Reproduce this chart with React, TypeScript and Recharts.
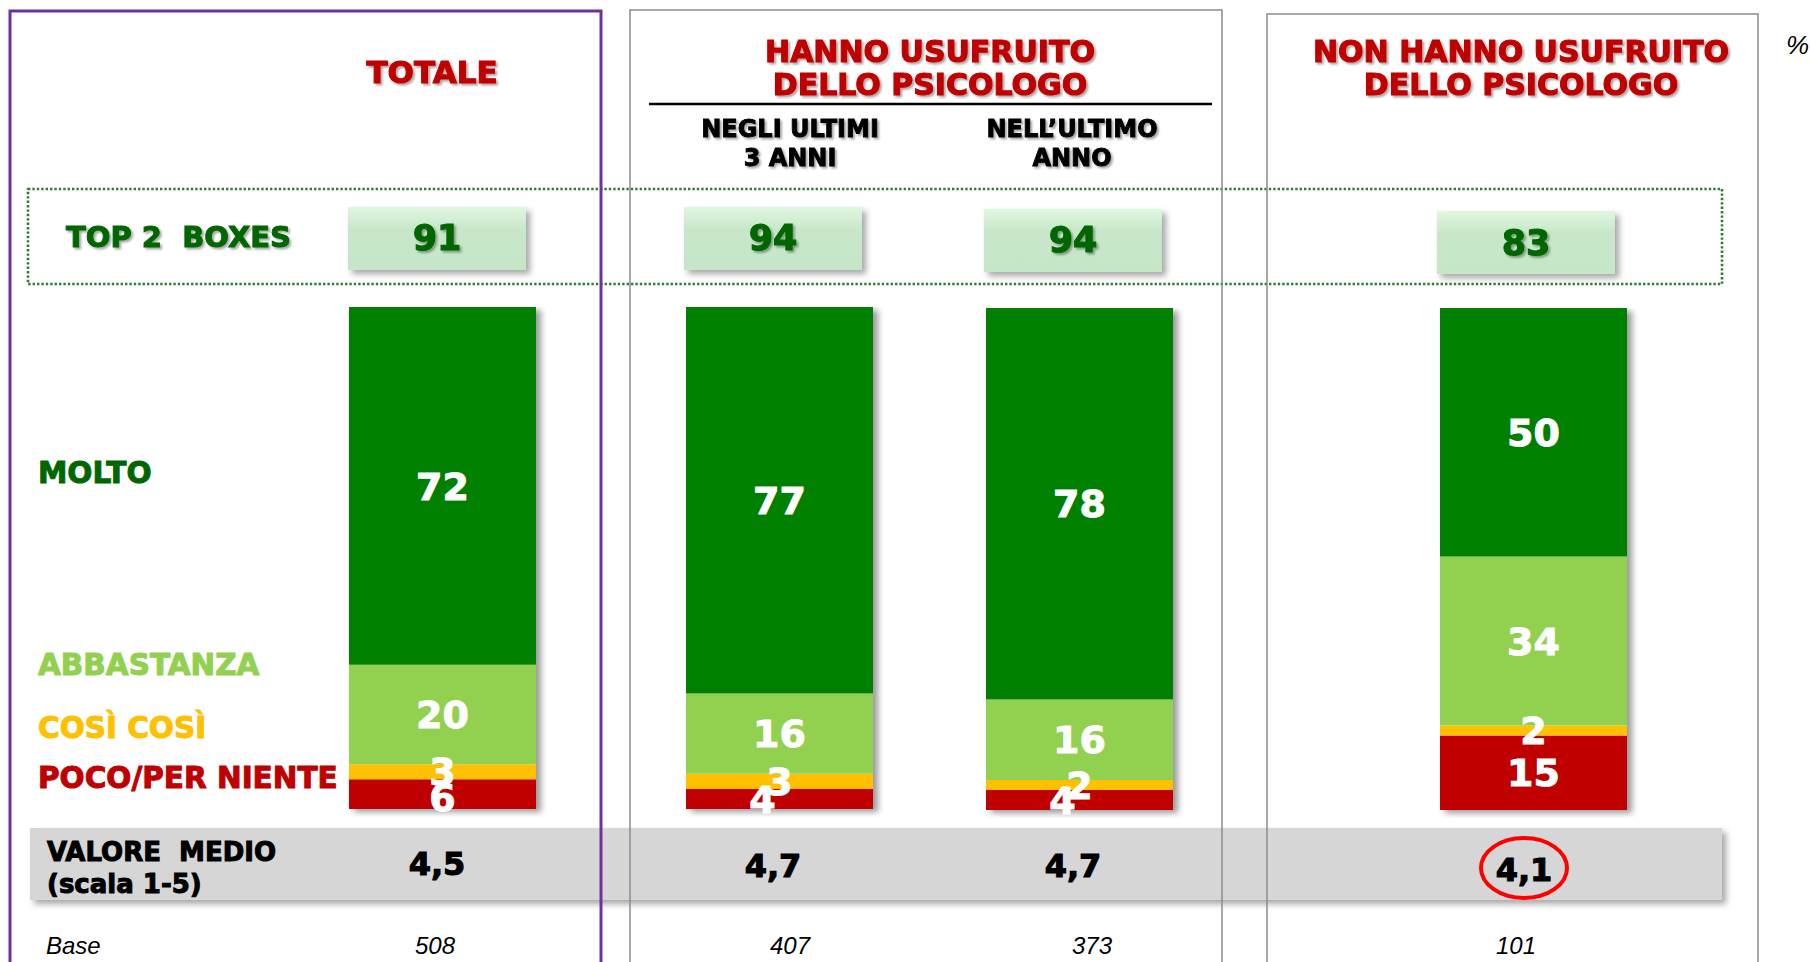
import React from 'react';
import { BarChart, Bar, XAxis, YAxis, LabelList } from 'recharts';

// ---- DATA ----
const categories = ['TOTALE', 'NEGLI ULTIMI 3 ANNI', "NELL'ULTIMO ANNO", 'NON HANNO USUFRUITO'];
const molto = [72, 77, 78, 50];
const abbastanza = [20, 16, 16, 34];
const cosi = [3, 3, 2, 2];
const poco = [6, 4, 4, 15];
const top2 = [91, 94, 94, 83];
const media = ['4,5', '4,7', '4,7', '4,1'];
const base = [508, 407, 373, 101];

// ---- LAYOUT ----
const BOLD = '"DejaVu Sans", sans-serif';
const REG = '"Liberation Sans", Arial, sans-serif';
const barCenters = [442, 779, 1079, 1533];
const barTops = [307, 307, 308, 308];
const BAR_H = 502;
const BAR_W = 187;
const CHART_W = 224;
const boxCenters = [437, 773, 1073, 1526];
const boxTops = [207, 207, 209, 211];
const top2Baselines = [250, 250, 252, 255];
const mediaCenters = [437, 773, 1073, 1524];
const mediaBaselines = [875, 877, 877, 881];
const baseCenters = [435, 790, 1092, 1516];
const pocoDx = [0, -17, -17, 0];
const pocoDy = [3, 0, 0, 0];

const SEG_COLORS = { molto: '#008000', abbastanza: '#92D050', cosi: '#FFC000', poco: '#C00000' };

const heavy = (color: string, w = 0.9) => ({ stroke: color, strokeWidth: w, paintOrder: 'stroke' as any });

const makeLabel = (dx: number, dy: number) => (props: any) => {
  const { x, y, width, height, value } = props;
  const F = 38;
  const cx = Number(x) + Number(width) / 2 + dx;
  const by = Number(y) + Number(height) / 2 + F * 0.36 + dy;
  return (
    <text x={cx} y={by} textAnchor="middle" fill="#fff" fontFamily={BOLD} fontWeight="bold" fontSize={F} {...heavy('#fff', 1)}>
      {value}
    </text>
  );
};

function Column({ i }: { i: number }) {
  const data = [
    { name: categories[i], poco: poco[i], cosi: cosi[i], abbastanza: abbastanza[i], molto: molto[i] },
  ];
  return (
    <div style={{ position: 'absolute', left: barCenters[i] - CHART_W / 2, top: barTops[i] }}>
      <BarChart
        width={CHART_W}
        height={BAR_H + 8}
        data={data}
        stackOffset="expand"
        margin={{ top: 0, right: 0, bottom: 8, left: 0 }}
        barSize={BAR_W}
        barCategoryGap={0}
      >
        <XAxis dataKey="name" hide />
        <YAxis type="number" hide />
        <Bar
          dataKey="poco"
          stackId="s"
          fill={SEG_COLORS.poco}
          isAnimationActive={false}
          background={{ fill: '#ffffff', filter: 'url(#barShadow)' } as any}
        >
          <LabelList dataKey="poco" content={makeLabel(pocoDx[i], pocoDy[i])} />
        </Bar>
        <Bar dataKey="cosi" stackId="s" fill={SEG_COLORS.cosi} isAnimationActive={false}>
          <LabelList dataKey="cosi" content={makeLabel(0, 0)} />
        </Bar>
        <Bar dataKey="abbastanza" stackId="s" fill={SEG_COLORS.abbastanza} isAnimationActive={false}>
          <LabelList dataKey="abbastanza" content={makeLabel(0, 0)} />
        </Bar>
        <Bar dataKey="molto" stackId="s" fill={SEG_COLORS.molto} isAnimationActive={false}>
          <LabelList dataKey="molto" content={makeLabel(0, 0)} />
        </Bar>
      </BarChart>
    </div>
  );
}

export default function App() {
  return (
    <div style={{ position: 'absolute', left: 0, top: 0, width: 1810, height: 962, background: '#fff', overflow: 'hidden' }}>
      <svg width={1810} height={962} style={{ position: 'absolute', left: 0, top: 0 }}>
        <defs>
          <filter id="tshadow" x="-10%" y="-30%" width="130%" height="180%">
            <feDropShadow dx="2" dy="2" stdDeviation="1" floodColor="#000" floodOpacity="0.35" />
          </filter>
          <filter id="boxShadow" x="-10%" y="-20%" width="130%" height="160%">
            <feDropShadow dx="4" dy="4" stdDeviation="3" floodColor="#000" floodOpacity="0.35" />
          </filter>
          <filter id="barShadow" x="-10%" y="-5%" width="130%" height="115%">
            <feDropShadow dx="5" dy="3" stdDeviation="3" floodColor="#000" floodOpacity="0.4" />
          </filter>
          <linearGradient id="boxGrad" x1="0" y1="0" x2="0" y2="1">
            <stop offset="0" stopColor="#E0F7E0" />
            <stop offset="0.35" stopColor="#C8E7CA" />
            <stop offset="1" stopColor="#C6E6C8" />
          </linearGradient>
        </defs>

        {/* Top 2 boxes dotted frame */}
        <rect x={28} y={189} width={1694} height={95} fill="none" stroke="#2E7D32" strokeWidth={2.6} strokeDasharray="2.4 2" />

        {/* Grey band */}
        <rect x={30} y={828} width={1692} height={72} fill="#D6D6D6" filter="url(#boxShadow)" />

        {/* Box borders */}
        <rect x={10} y={11} width={591} height={990} fill="none" stroke="#7030A0" strokeWidth={3} />
        <rect x={630} y={10} width={592} height={990} fill="none" stroke="#8C8C8C" strokeWidth={1.5} />
        <rect x={1267} y={14} width={491} height={990} fill="none" stroke="#8C8C8C" strokeWidth={1.5} />

        {/* Headers */}
        <g fontFamily={BOLD} fontWeight="bold" fill="#C00000" textAnchor="middle" filter="url(#tshadow)" {...heavy('#C00000', 1.1)}>
          <text x={432} y={83} fontSize={31}>TOTALE</text>
          <text x={930} y={62} fontSize={30}>HANNO USUFRUITO</text>
          <text x={930} y={95} fontSize={30}>DELLO PSICOLOGO</text>
          <text x={1521} y={62} fontSize={30}>NON HANNO USUFRUITO</text>
          <text x={1521} y={95} fontSize={30}>DELLO PSICOLOGO</text>
        </g>
        <line x1={649} y1={104} x2={1212} y2={104} stroke="#000" strokeWidth={2.5} />
        <g fontFamily={BOLD} fontWeight="bold" fill="#000" textAnchor="middle" fontSize={24} filter="url(#tshadow)" {...heavy('#000', 0.9)}>
          <text x={790} y={137}>NEGLI ULTIMI</text>
          <text x={790} y={166}>3 ANNI</text>
          <text x={1072} y={137}>NELL’ULTIMO</text>
          <text x={1072} y={166}>ANNO</text>
        </g>
        <text x={1786} y={54} fontFamily={REG} fontStyle="italic" fontSize={26} fill="#000">%</text>

        {/* Top 2 boxes */}
        <text x={66} y={247} fontFamily={BOLD} fontWeight="bold" fontSize={29} fill="#006600" filter="url(#tshadow)" xmlSpace="preserve" {...heavy('#006600', 1)}>
          TOP 2  BOXES
        </text>
        {top2.map((v, i) => (
          <g key={'t' + i}>
            <rect x={boxCenters[i] - 89} y={boxTops[i]} width={178} height={63} fill="url(#boxGrad)" filter="url(#boxShadow)" />
            <text x={boxCenters[i]} y={top2Baselines[i]} textAnchor="middle" fontFamily={BOLD} fontWeight="bold" fontSize={35} fill="#006600" filter="url(#tshadow)" {...heavy('#006600', 1.1)}>
              {v}
            </text>
          </g>
        ))}

        {/* Legend labels */}
        <g fontFamily={BOLD} fontWeight="bold" fontSize={29.5}>
          <text x={38} y={483} fill="#006600" {...heavy('#006600', 1)}>MOLTO</text>
          <text x={38} y={675} fill="#92D050" {...heavy('#92D050', 1)}>ABBASTANZA</text>
          <text x={38} y={738} fill="#FFC000" {...heavy('#FFC000', 1)}>COSÌ COSÌ</text>
          <text x={38} y={788} fill="#C00000" {...heavy('#C00000', 1)}>POCO/PER NIENTE</text>
        </g>

        {/* Valore medio */}
        <g fontFamily={BOLD} fontWeight="bold" fill="#000" fontSize={26} {...heavy('#000', 1)}>
          <text x={47} y={861} xmlSpace="preserve">VALORE  MEDIO</text>
          <text x={47} y={893}>(scala 1-5)</text>
        </g>
        {media.map((v, i) => (
          <text key={'m' + i} x={mediaCenters[i]} y={mediaBaselines[i]} textAnchor="middle" fontFamily={BOLD} fontWeight="bold" fontSize={32} fill="#000" {...heavy('#000', 1.1)}>
            {v}
          </text>
        ))}
        <ellipse cx={1524} cy={868} rx={43} ry={30} fill="none" stroke="#FF0000" strokeWidth={4} />

        {/* Base */}
        <text x={46} y={954} fontFamily={REG} fontStyle="italic" fontSize={24} fill="#000">Base</text>
        {base.map((v, i) => (
          <text key={'b' + i} x={baseCenters[i]} y={954} textAnchor="middle" fontFamily={REG} fontStyle="italic" fontSize={24} fill="#000">
            {v}
          </text>
        ))}
      </svg>
      {categories.map((_, i) => (
        <Column key={i} i={i} />
      ))}
    </div>
  );
}
